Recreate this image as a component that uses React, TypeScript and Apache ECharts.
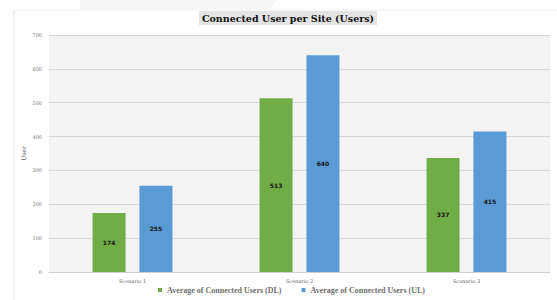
import React, { useEffect, useRef } from "react";
import * as echarts from "echarts";

const categories = ["Scenario 1", "Scenario 2", "Scenario 3"];
const dlValues = [174, 513, 337];
const ulValues = [255, 640, 415];
const seriesNames = ["Average of Connected Users (DL)", "Average of Connected Users (UL)"];

export default function App() {
  const ref = useRef<HTMLDivElement>(null);
  useEffect(() => {
    const chart = echarts.init(ref.current!, null, { renderer: "svg" });
    const label = {
      show: true,
      position: "inside",
      fontSize: 6,
      fontWeight: "bold",
      color: "#111",
      fontFamily: "DejaVu Sans",
    };
    chart.setOption({
      animation: false,
      backgroundColor: "#ffffff",
      title: {
        text: "Connected User per Site (Users)",
        left: 285,
        textAlign: "center",
        top: 11,
        padding: [2, 3, 2, 3],
        backgroundColor: "#e4e4e4",
        textStyle: {
          fontFamily: "DejaVu Serif",
          fontWeight: "bold",
          fontSize: 9.5,
          color: "#111",
        },
      },
      graphic: [
        {
          type: "polygon",
          shape: { points: [[80, 0], [277, 0], [270, 9], [80, 9]] },
          style: { fill: "#f5f5f5" },
          silent: true,
        },
        {
          type: "line",
          shape: { x1: 14, y1: 10, x2: 14, y2: 300 },
          style: { stroke: "#e2e2e2", lineWidth: 1 },
          silent: true,
        },
        {
          type: "line",
          shape: { x1: 14, y1: 10, x2: 557, y2: 10 },
          style: { stroke: "#eeeeee", lineWidth: 1 },
          silent: true,
        },
      ],
      legend: {
        bottom: 1,
        left: 153,
        itemWidth: 4,
        itemHeight: 4,
        itemGap: 20,
        icon: "rect",
        textStyle: {
          fontFamily: "Liberation Serif",
          fontWeight: "bold",
          fontSize: 8,
          color: "#707070",
        },
        data: seriesNames,
      },
      grid: {
        left: 49,
        right: 7,
        top: 35,
        bottom: 28,
        show: true,
        backgroundColor: "#f3f3f3",
        borderWidth: 0,
      },
      xAxis: {
        type: "category",
        data: categories,
        axisLine: { show: true, lineStyle: { color: "#d0d0d0" } },
        axisTick: { show: false },
        axisLabel: {
          fontSize: 5,
          color: "#666",
          fontFamily: "DejaVu Serif",
          margin: 6,
        },
      },
      yAxis: {
        type: "value",
        min: 0,
        max: 700,
        interval: 100,
        name: "User",
        nameLocation: "middle",
        nameGap: 23,
        nameMoveOverlap: false,
        nameRotate: 90,
        nameTextStyle: {
          fontSize: 6,
          color: "#555",
          fontFamily: "DejaVu Serif",
        },
        axisLine: { show: false },
        axisTick: { show: false },
        axisLabel: {
          fontSize: 5,
          color: "#777",
          fontFamily: "DejaVu Serif",
          margin: 7,
        },
        splitLine: { lineStyle: { color: "#d8d8d8", width: 1 } },
      },
      series: [
        {
          name: seriesNames[0],
          type: "bar",
          data: dlValues,
          barWidth: 33,
          barGap: "42%",
          itemStyle: { color: "#70AD47" },
          label,
        },
        {
          name: seriesNames[1],
          type: "bar",
          data: ulValues,
          barWidth: 33,
          itemStyle: { color: "#5B9BD5" },
          label,
        },
      ],
    });
    return () => chart.dispose();
  }, []);
  return (
    <div
      ref={ref}
      style={{ position: "fixed", left: 0, top: 0, width: 557, height: 300 }}
    />
  );
}
